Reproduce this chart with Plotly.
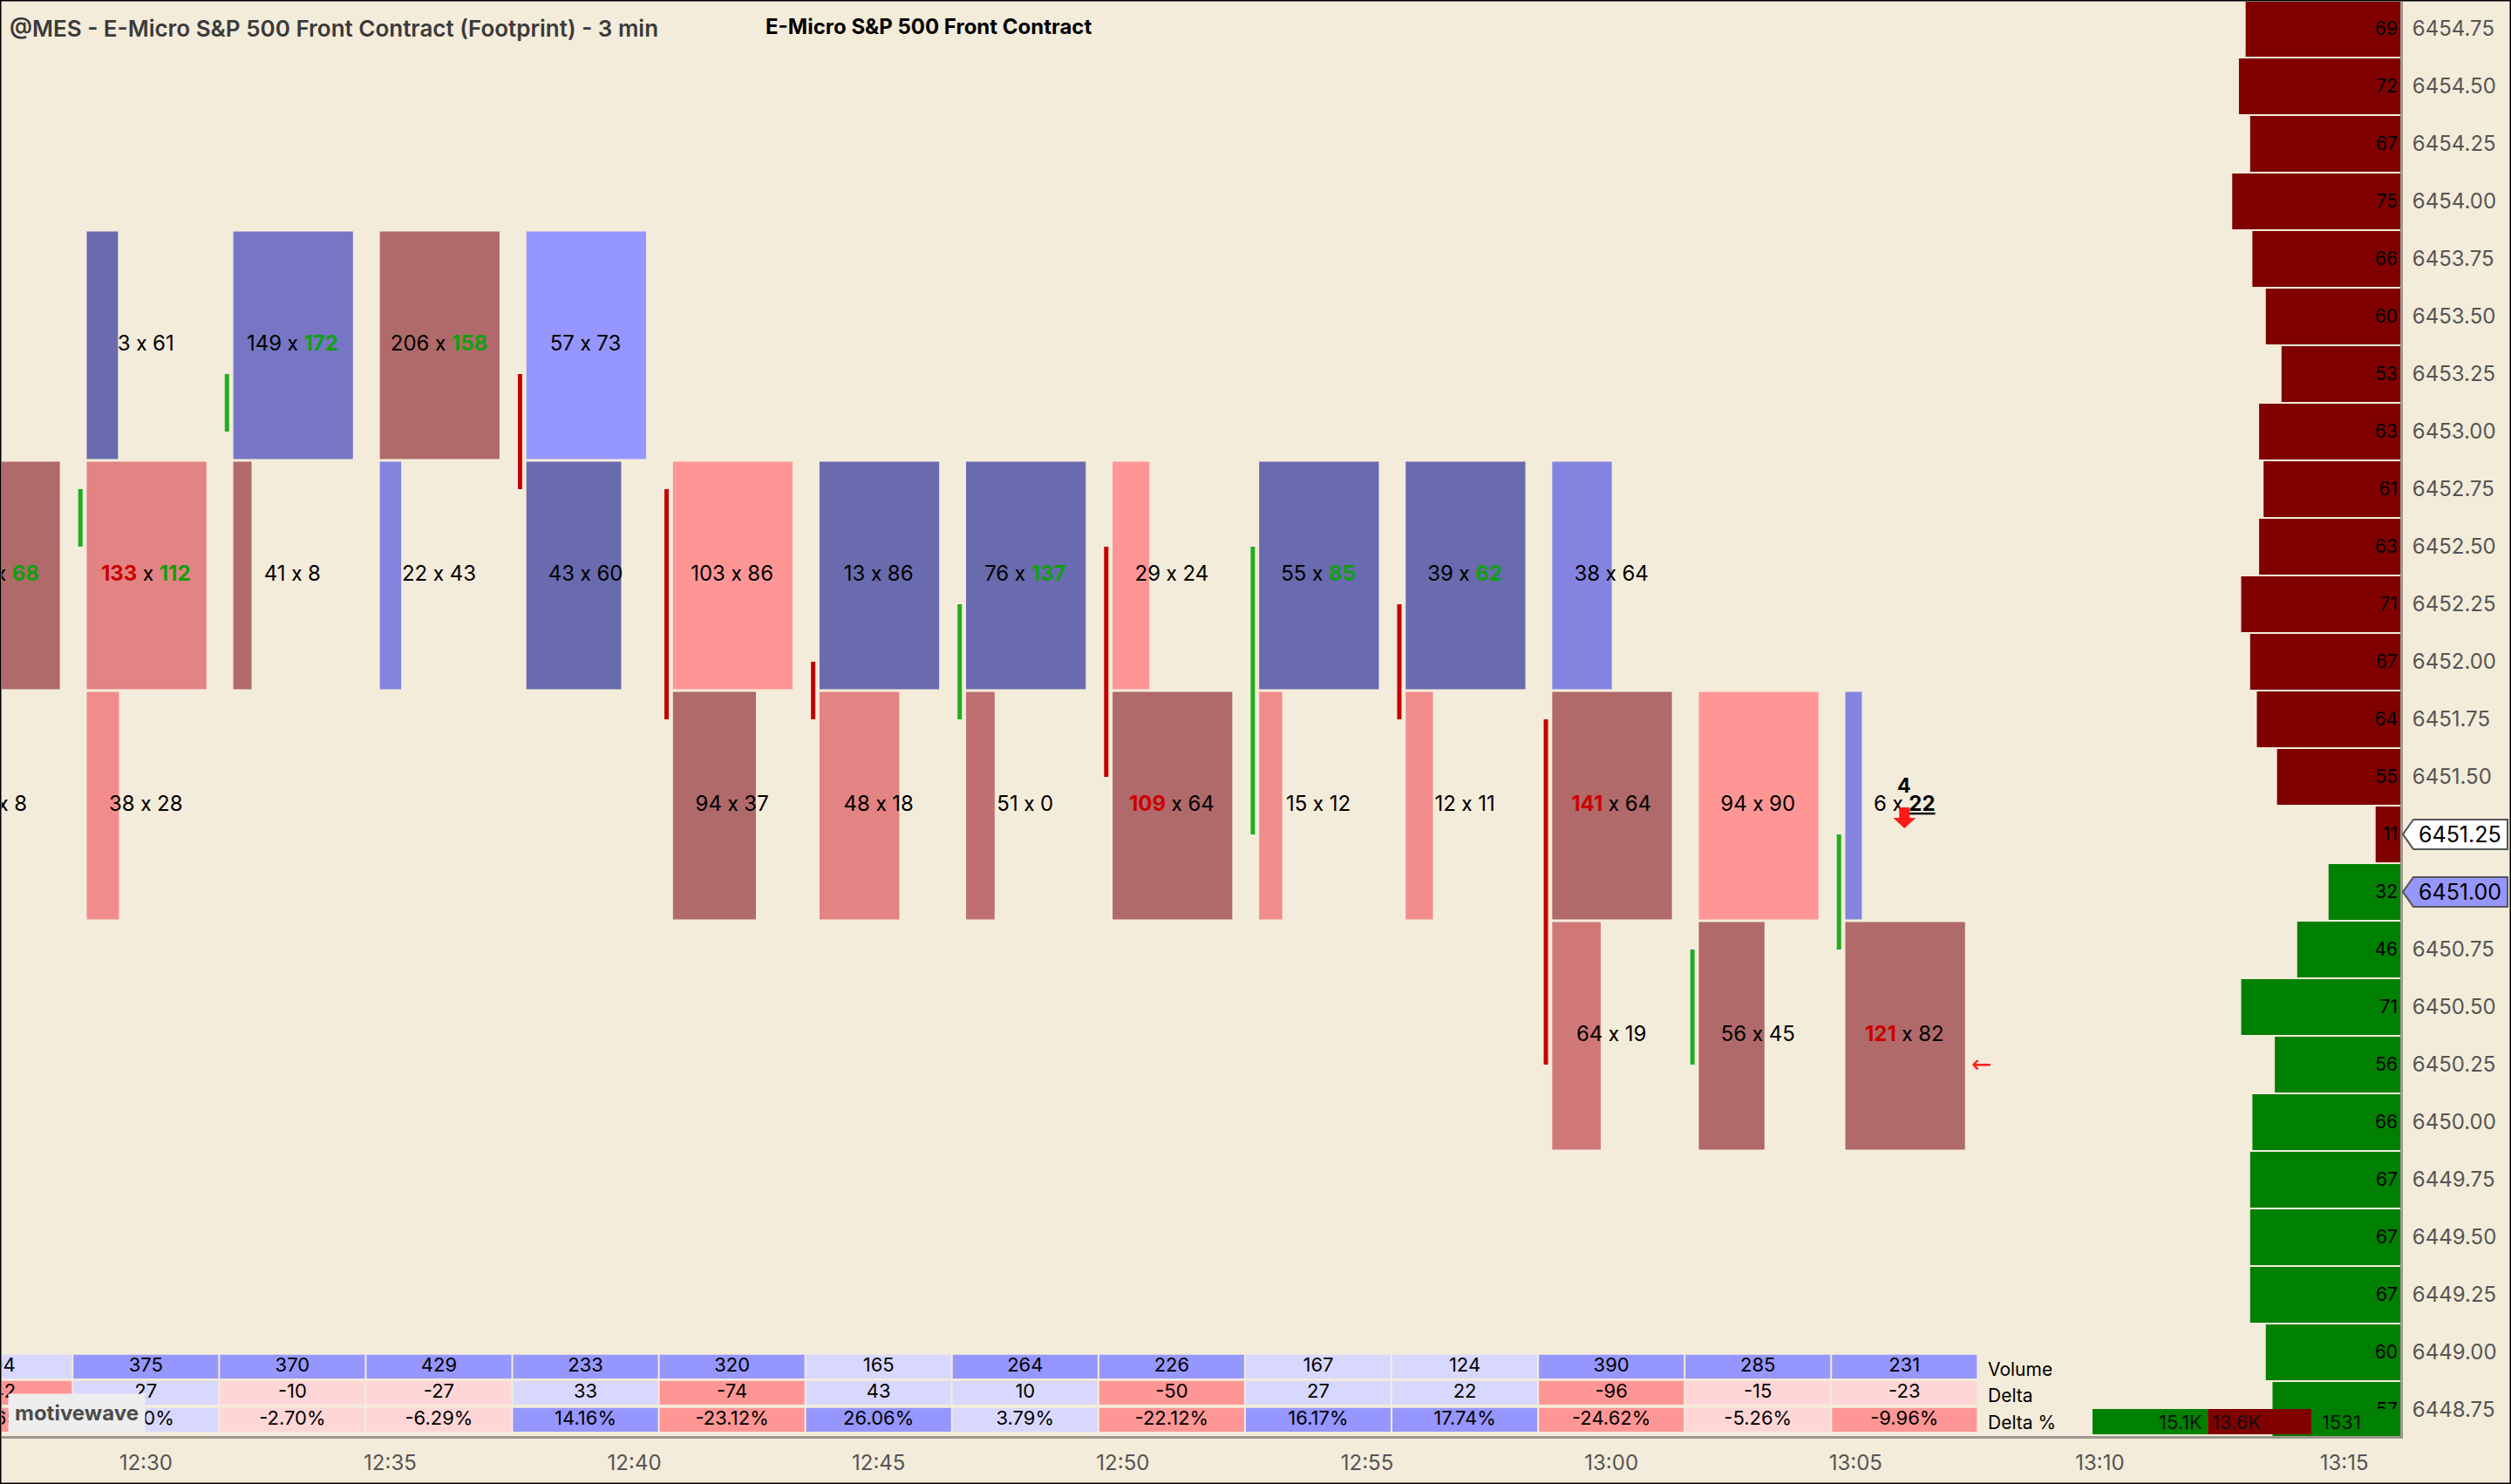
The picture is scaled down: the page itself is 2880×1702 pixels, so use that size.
import plotly.graph_objects as go

# 3 minute bars
BAR_TIMES = ["12:27", "12:30", "12:33", "12:36", "12:39", "12:42", "12:45",
             "12:48", "12:51", "12:54", "12:57", "13:00", "13:03", "13:06"]
BAR_OPEN = [None, 6452.50, 6453.00, 6453.00, 6453.25, 6452.75, 6452.00,
            6451.75, 6452.50, 6451.25, 6452.25, 6451.75, 6450.25, 6450.75]
BAR_CLOSE = [None, 6452.75, 6453.25, 6453.00, 6452.75, 6451.75, 6451.75,
             6452.25, 6451.50, 6452.50, 6451.75, 6450.25, 6450.75, 6451.25]

# footprint cells (1 point rows), bid x ask
CELL_TIME = ["12:27", "12:27",
             "12:30", "12:30", "12:30",
             "12:33", "12:33",
             "12:36", "12:36",
             "12:39", "12:39",
             "12:42", "12:42",
             "12:45", "12:45",
             "12:48", "12:48",
             "12:51", "12:51",
             "12:54", "12:54",
             "12:57", "12:57",
             "13:00", "13:00", "13:00",
             "13:03", "13:03",
             "13:06", "13:06"]
CELL_ROW = [6452, 6451,
            6453, 6452, 6451,
            6453, 6452,
            6453, 6452,
            6453, 6452,
            6452, 6451,
            6452, 6451,
            6452, 6451,
            6452, 6451,
            6452, 6451,
            6452, 6451,
            6452, 6451, 6450,
            6451, 6450,
            6451, 6450]
CELL_BID = [101, 17, 3, 133, 38, 149, 41, 206, 22, 57, 43, 103, 94, 13, 48,
            76, 51, 29, 109, 55, 15, 39, 12, 38, 141, 64, 94, 56, 6, 121]
CELL_ASK = [68, 8, 61, 112, 28, 172, 8, 158, 43, 73, 60, 86, 37, 86, 18,
            137, 0, 24, 64, 85, 12, 62, 11, 64, 64, 19, 90, 45, 22, 82]

# depth of market on the right
DOM_PRICE = [6454.75, 6454.50, 6454.25, 6454.00, 6453.75, 6453.50, 6453.25,
             6453.00, 6452.75, 6452.50, 6452.25, 6452.00, 6451.75, 6451.50,
             6451.25, 6451.00, 6450.75, 6450.50, 6450.25, 6450.00, 6449.75,
             6449.50, 6449.25, 6449.00, 6448.75]
DOM_SIZE = [69, 72, 67, 75, 66, 60, 53, 63, 61, 63, 71, 67, 64, 55,
            11, 32, 46, 71, 56, 66, 67, 67, 67, 60, 57]
DOM_BID_TOTAL = 15131
DOM_ASK_TOTAL = 13600

BEST_ASK = 6451.25
BEST_BID = 6451.00
LAST_SIZE = 4
ALERT_PRICE = 6450.25

TICK_TIMES = ["12:30", "12:35", "12:40", "12:45", "12:50",
              "12:55", "13:00", "13:05", "13:10", "13:15"]

# cell shading (style only)
SHADES = {"A": "#6a6aae", "B": "#7676c4", "C": "#9696ff", "D": "#8484e0",
          "E": "#b06a6a", "F": "#e38383", "G": "#f28c8c", "H": "#ff9696",
          "I": "#d07878", "J": "#c07070"}
CELL_SHADE = ["E", "G", "A", "F", "G", "B", "E", "E", "D", "C", "A", "H", "E",
              "A", "F", "A", "J", "H", "E", "A", "G", "A", "G", "D", "E", "I",
              "H", "E", "D", "E"]

BG = "#f4ecda"
X_RANGE = [27.05, 76.15]
Y_RANGE = [6448.636, 6454.867]
PLOT_W, PLOT_H = 2751, 1645
PX_X = PLOT_W / (X_RANGE[1] - X_RANGE[0])
PX_Y = PLOT_H / (Y_RANGE[1] - Y_RANGE[0])


def to_min(t):
    h, m = t.split(":")
    return (int(h) - 12) * 60 + int(m)


def paper_x(px):
    return (px - 2) / PLOT_W


def paper_y(px):
    return (1647 - px) / PLOT_H


bar_x = [to_min(t) for t in BAR_TIMES]
cell_x = [to_min(t) for t in CELL_TIME]
cell_vol = [b + a for b, a in zip(CELL_BID, CELL_ASK)]

fig = go.Figure()
shapes = []
annotations = []

# footprint cells
bar_max = {}
for t, v in zip(CELL_TIME, cell_vol):
    bar_max[t] = max(bar_max.get(t, 0), v)
cell_len = [v / bar_max[t] * 2.45 for t, v in zip(CELL_TIME, cell_vol)]
fig.add_trace(go.Bar(
    orientation="h",
    y=[r + 0.375 for r in CELL_ROW],
    x=cell_len,
    base=[x - 1.21 for x in cell_x],
    width=1.0 - 3 / PX_Y,
    marker=dict(color=[SHADES[s] for s in CELL_SHADE], line=dict(width=0)),
    hoverinfo="skip",
))

# candle bodies
for up, color in [(True, "#1fae1f"), (False, "#c40000")]:
    xs, ys = [], []
    for x, o, c in zip(bar_x, BAR_OPEN, BAR_CLOSE):
        if o is None or (c > o) != up or c == o:
            continue
        xs += [x - 1.34, x - 1.34, None]
        ys += [o, c, None]
    fig.add_trace(go.Scatter(x=xs, y=ys, mode="lines",
                             line=dict(color=color, width=5), hoverinfo="skip"))

# cell text with diagonal imbalances
lookup = {(t, r): (b, a) for t, r, b, a in zip(CELL_TIME, CELL_ROW, CELL_BID, CELL_ASK)}
cell_text = []
for t, r, b, a in zip(CELL_TIME, CELL_ROW, CELL_BID, CELL_ASK):
    bid_s, ask_s = str(b), str(a)
    above = lookup.get((t, r + 1))
    below = lookup.get((t, r - 1))
    if above and above[1] > 0 and b >= 2 * above[1]:
        bid_s = "<b><span style='color:#cc0000'>%s</span></b>" % b
    if below and below[0] > 0 and a >= 2 * below[0]:
        ask_s = "<b><span style='color:#10a010'>%s</span></b>" % a
    if t == BAR_TIMES[-1] and r <= BEST_ASK < r + 1:
        ask_s = "<b><u>%s</u></b>" % a
    # separate span keeps the font from turning the x into a times sign
    cell_text.append(bid_s + " <span style='font-family:Roboto'>x</span> " + ask_s)
fig.add_trace(go.Scatter(
    x=cell_x, y=[r + 0.375 for r in CELL_ROW], text=cell_text, mode="text",
    textfont=dict(family="Inter", size=24, color="#000"), hoverinfo="skip",
))

# bar statistics table
vol, delta = [], []
for t in BAR_TIMES:
    vol.append(sum(v for c, v in zip(CELL_TIME, cell_vol) if c == t))
    delta.append(sum(a - b for c, b, a in zip(CELL_TIME, CELL_BID, CELL_ASK) if c == t))
delta_pct = [d / v * 100 for d, v in zip(delta, vol)]


def shade(v, strong):
    if v >= 0:
        return "#9696ff" if v >= strong else "#d8d8ff"
    return "#ff9696" if -v >= strong else "#ffd6d6"


rows = [
    ("Volume", 0.0401, ["#9696ff" if v >= 200 else "#d8d8ff" for v in vol],
     [str(v) for v in vol]),
    ("Delta", 0.0219, [shade(d, 40) if d < 0 else shade(d, 50) for d in delta],
     [str(d) for d in delta]),
    ("Delta %", 0.0030, [shade(p, 8) for p in delta_pct],
     ["%.2f%%" % p for p in delta_pct]),
]
row_h = 0.0166
for name, base, colors, texts in rows:
    fig.add_trace(go.Bar(
        x=bar_x, y=[row_h] * len(bar_x), base=[base] * len(bar_x),
        width=3 - 2 / PX_X, marker=dict(color=colors, line=dict(width=0)),
        xaxis="x", yaxis="y2", hoverinfo="skip",
    ))
    fig.add_trace(go.Scatter(
        x=bar_x, y=[base + row_h / 2] * len(bar_x), text=texts, mode="text",
        textfont=dict(family="Inter", size=22, color="#000"),
        xaxis="x", yaxis="y2", hoverinfo="skip",
    ))
    annotations.append(dict(x=bar_x[-1] + 1.68, y=base + row_h / 2 - 0.002,
                            xref="x", yref="y2", text=name, showarrow=False,
                            xanchor="left", yanchor="middle",
                            font=dict(family="Inter", size=21, color="#000")))

# depth of market
fig.add_trace(go.Bar(
    orientation="h", y=DOM_PRICE, x=DOM_SIZE, xaxis="x2", yaxis="y",
    width=0.25 - 2 / PX_Y,
    marker=dict(color=["#800000" if p >= BEST_ASK else "#008000" for p in DOM_PRICE],
                line=dict(width=0)),
    text=[str(s) for s in DOM_SIZE], textposition="inside", insidetextanchor="start",
    textangle=0, textfont=dict(family="Inter", size=21, color="#000"),
    constraintext="none", hoverinfo="skip",
))

# last trade marker on the live bar
lx = bar_x[-1]
ly = BEST_ASK + 0.125
dx, dy = 1 / PX_X, 1 / PX_Y
arrow = "M %f,%f L %f,%f L %f,%f L %f,%f L %f,%f L %f,%f L %f,%f Z" % (
    lx - 6 * dx, ly - 2 * dy, lx + 6 * dx, ly - 2 * dy, lx + 6 * dx, ly - 14 * dy,
    lx + 13 * dx, ly - 14 * dy, lx, ly - 26 * dy, lx - 13 * dx, ly - 14 * dy,
    lx - 6 * dx, ly - 14 * dy)
shapes.append(dict(type="path", xref="x", yref="y", path=arrow,
                   fillcolor="#ff1a1a", line=dict(width=0), layer="above"))
annotations.append(dict(x=lx, y=ly + 23 * dy, xref="x", yref="y", showarrow=False,
                        xanchor="center", yanchor="middle", text="<b>%d</b>" % LAST_SIZE,
                        font=dict(family="Inter", size=23, color="#000")))
annotations.append(dict(x=lx + 1.57, y=ALERT_PRICE, xref="x", yref="y", showarrow=False,
                        xanchor="center", yanchor="middle", text="\u2190",
                        font=dict(family="DejaVu Sans", size=28, color="#ff2020")))

# price flags on the right axis
for price, fill in [(BEST_ASK, "#ffffff"), (BEST_BID, "#9696ff")]:
    h = 17 / PX_Y
    path = "M %f,%f L %f,%f L %f,%f L %f,%f L %f,%f Z" % (
        paper_x(2756), price, paper_x(2768), price + h, paper_x(2876), price + h,
        paper_x(2876), price - h, paper_x(2768), price - h)
    shapes.append(dict(type="path", xref="paper", yref="y", path=path,
                       fillcolor=fill, line=dict(color="#555555", width=2), layer="above"))
    annotations.append(dict(x=paper_x(2822), y=price, xref="paper", yref="y",
                            text="%.2f" % price, showarrow=False,
                            xanchor="center", yanchor="middle",
                            font=dict(family="Inter", size=25, color="#000")))

# DOM totals strip
split = 2400 + (2651 - 2400) * DOM_BID_TOTAL / (DOM_BID_TOTAL + DOM_ASK_TOTAL)
for x0, x1, c in [(2400, split, "#008000"), (split, 2651, "#800000"), (2651, 2753, "#008000")]:
    shapes.append(dict(type="rect", xref="paper", yref="paper", x0=paper_x(x0), x1=paper_x(x1),
                       y0=paper_y(1645), y1=paper_y(1616), fillcolor=c,
                       line=dict(width=0), layer="above"))
tot_font = dict(family="Inter", size=22, color="#111")
annotations.append(dict(x=paper_x(split - 4), y=paper_y(1631), xref="paper", yref="paper",
                        xanchor="right", yanchor="middle", showarrow=False, font=tot_font,
                        text="%.1fK" % (DOM_BID_TOTAL / 1000)))
annotations.append(dict(x=paper_x(split + 3), y=paper_y(1631), xref="paper", yref="paper",
                        xanchor="left", yanchor="middle", showarrow=False, font=tot_font,
                        text="%.1fK" % (DOM_ASK_TOTAL / 1000)))
annotations.append(dict(x=paper_x(2685), y=paper_y(1631), xref="paper", yref="paper",
                        xanchor="center", yanchor="middle", showarrow=False, font=tot_font,
                        text=str(DOM_BID_TOTAL - DOM_ASK_TOTAL)))

# titles and logo
annotations.append(dict(x=paper_x(9), y=paper_y(33), xref="paper", yref="paper",
                        xanchor="left", yanchor="middle", showarrow=False,
                        text="@MES - E-Micro S&P 500 Front Contract (Footprint) - 3 min",
                        font=dict(family="Inter", size=26, color="#3a3a3a", weight=600)))
annotations.append(dict(x=paper_x(1065), y=paper_y(30), xref="paper", yref="paper",
                        xanchor="center", yanchor="middle", showarrow=False,
                        text="<b>E-Micro S&P 500 Front Contract</b>",
                        font=dict(family="Inter", size=24, color="#000")))
annotations.append(dict(x=paper_x(9), y=paper_y(1620), xref="paper", yref="paper",
                        xanchor="left", yanchor="middle", showarrow=False,
                        text="<b>motivewave</b>", bgcolor="#eeeeee", borderpad=7,
                        font=dict(family="Inter", size=24, color="#4d4d4d")))

# outer frame
shapes.append(dict(type="rect", xref="paper", yref="paper",
                   x0=paper_x(0.5), x1=paper_x(2879.5), y0=paper_y(1701.5), y1=paper_y(0.5),
                   line=dict(color="#000", width=2), layer="above"))

ytick = [p for p in DOM_PRICE if p not in (BEST_ASK, BEST_BID)]
fig.update_layout(
    width=2880, height=1702,
    margin=dict(l=2, r=127, t=2, b=55, pad=0),
    paper_bgcolor=BG, plot_bgcolor=BG,
    barmode="overlay", showlegend=False, hovermode=False,
    font=dict(family="Inter", color="#000"),
    xaxis=dict(range=X_RANGE, tickvals=[to_min(t) for t in TICK_TIMES], ticktext=TICK_TIMES,
               showgrid=False, zeroline=False, showline=True, linecolor="#9c978f",
               linewidth=3, ticks="", ticklabelstandoff=7,
               tickfont=dict(family="Inter", size=24, color="#555")),
    xaxis2=dict(overlaying="x", anchor="y", range=[PLOT_W / 2.57, 0], visible=False),
    yaxis=dict(side="right", range=Y_RANGE, tickvals=ytick, ticktext=["%.2f" % p for p in ytick],
               showgrid=False, zeroline=False, showline=True, linecolor="#9c978f",
               linewidth=3, ticks="", ticklabelstandoff=6,
               tickfont=dict(family="Inter", size=24, color="#555")),
    yaxis2=dict(overlaying="y", anchor="x", range=[0, 1], visible=False),
    shapes=shapes,
    annotations=annotations,
)

fig.write_html("out.html", config={"displayModeBar": False},
               post_script="document.body.style.margin='0';"
                           "document.body.style.overflow='hidden';")
